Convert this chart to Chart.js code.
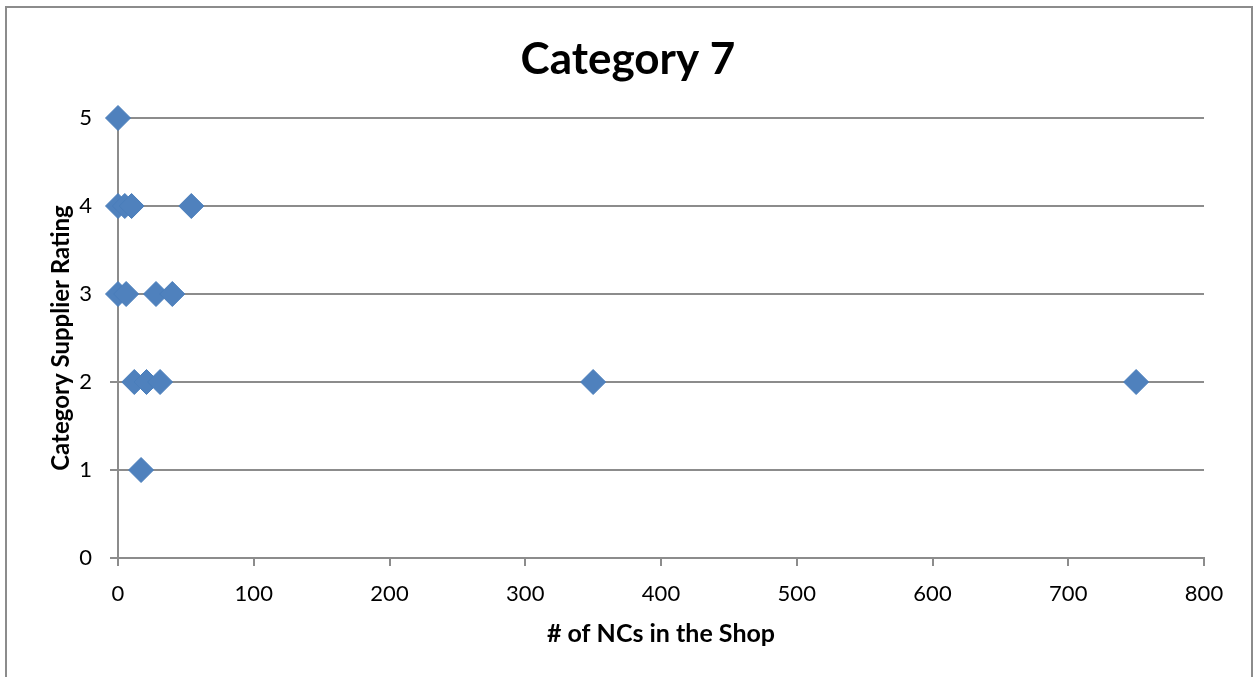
<!DOCTYPE html>
<html>
<head>
<meta charset="utf-8">
<script src="https://cdn.jsdelivr.net/npm/chart.js@4.4.1/dist/chart.umd.min.js"></script>
<style>
  html, body { margin: 0; padding: 0; background: #ffffff; }
  #wrap { position: relative; width: 1254px; height: 677px; }
  canvas { display: block; }
</style>
</head>
<body>
<div id="wrap"><canvas id="c" width="1254" height="677"></canvas></div>
<script>
// Supplier rating vs. number of non-conformances in the shop
const ncCounts = [0, 0, 5, 10, 54, 0, 6, 28, 40, 12, 21, 31, 350, 750, 17];
const ratings  = [5, 4, 4, 4, 4, 3, 3, 3, 3, 2, 2, 2, 2, 2, 1];
const xTicks = [0, 100, 200, 300, 400, 500, 600, 700, 800];
const yTicks = [0, 1, 2, 3, 4, 5];

const points = ncCounts.map((x, i) => ({ x: x, y: ratings[i] }));

const FONT = "Lato, 'Open Sans', 'Liberation Sans', sans-serif";
const GRID = '#8c8c8c';

// Grey frame around the whole chart
const framePlugin = {
  id: 'frame',
  beforeDraw(chart) {
    const ctx = chart.ctx;
    ctx.save();
    ctx.fillStyle = '#ffffff';
    ctx.fillRect(0, 0, chart.width, chart.height);
    ctx.strokeStyle = '#8c8c8c';
    ctx.lineWidth = 2;
    ctx.strokeRect(6, 7, 1246, 700);
    ctx.restore();
  }
};

new Chart(document.getElementById('c'), {
  type: 'scatter',
  data: {
    datasets: [{
      data: points,
      clip: false,
      pointStyle: 'rectRot',
      pointRadius: 12.5,
      pointHoverRadius: 12.5,
      backgroundColor: '#4f81bd',
      borderColor: '#4a7ebb',
      borderWidth: 1
    }]
  },
  options: {
    responsive: false,
    animation: false,
    events: [],
    layout: { padding: { left: 52, right: 50, top: 0, bottom: 0 } },
    plugins: {
      legend: { display: false },
      tooltip: { enabled: false },
      title: {
        display: true,
        text: 'Category 7',
        color: '#000000',
        font: { family: FONT, size: 44, weight: 'bold', lineHeight: 1.2 },
        padding: { top: 33, bottom: 32.2 }
      }
    },
    scales: {
      x: {
        type: 'linear',
        min: 0,
        max: 800,
        afterBuildTicks(scale) { scale.ticks = xTicks.map(v => ({ value: v })); },
        afterFit(scale) { scale.height = 119; },
        grid: {
          drawOnChartArea: false,
          drawTicks: true,
          tickLength: 8,
          color: GRID,
          lineWidth: 2
        },
        border: { display: true, color: GRID, width: 2 },
        ticks: {
          color: '#000000',
          padding: 15,
          font: { family: FONT, size: 22 }
        },
        title: {
          display: true,
          text: '# of NCs in the Shop',
          color: '#000000',
          font: { family: FONT, size: 25, weight: 'bold', lineHeight: 1.2 },
          padding: { top: 0, bottom: 28 }
        }
      },
      y: {
        type: 'linear',
        min: 0,
        max: 5,
        afterBuildTicks(scale) { scale.ticks = yTicks.map(v => ({ value: v })); },
        afterFit(scale) { scale.width = 66; },
        grid: {
          drawOnChartArea: true,
          drawTicks: true,
          tickLength: 8,
          color: GRID,
          lineWidth: 2
        },
        border: { display: true, color: GRID, width: 2 },
        ticks: {
          color: '#000000',
          padding: 18,
          font: { family: FONT, size: 22 }
        },
        title: {
          display: true,
          text: 'Category Supplier Rating',
          color: '#000000',
          font: { family: FONT, size: 24, weight: 'bold', lineHeight: 0.8 },
          padding: { top: 0, bottom: 0 }
        }
      }
    }
  },
  plugins: [framePlugin]
});
</script>
</body>
</html>
